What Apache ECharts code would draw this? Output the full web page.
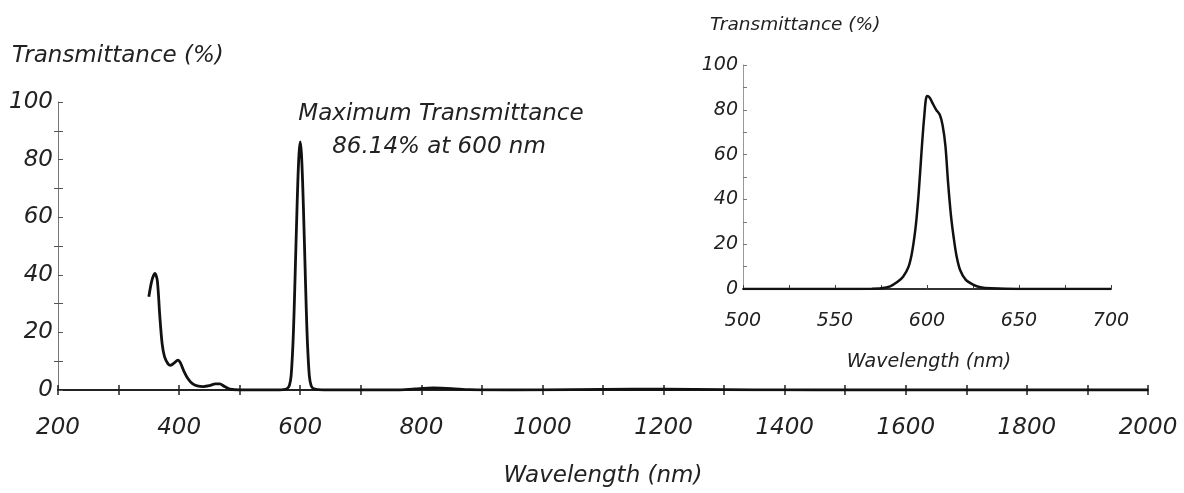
<!DOCTYPE html>
<html>
<head>
<meta charset="utf-8">
<script src="https://cdn.jsdelivr.net/npm/echarts@6/dist/echarts.min.js"></script>
<style>
  html, body { margin: 0; padding: 0; background: #fff; }
  #chart { width: 1184px; height: 493px; }
</style>
</head>
<body>
<div id="chart"></div>
<script>
// full spectrum (main plot): wavelength (nm) / transmittance (%)
var wavelengths = [350, 355, 360, 364, 368, 372, 376, 382, 386, 392, 398, 402, 408, 415, 422, 430, 440, 450, 460, 467, 475, 484, 500,
  530, 565, 575, 578, 582, 585, 588, 590, 592, 594, 596, 598, 600, 602, 604, 606, 608, 610, 612, 615, 618, 622, 630, 640,
  700, 760, 790, 820, 850, 880, 950, 1050, 1150, 1250, 1350, 1450, 2000]
var transmittance = [32.4, 38, 40.5, 38, 26, 16, 11.5, 9, 8.6, 9.4, 10.4, 9.5, 6.5, 3.8, 2.2, 1.4, 1.2, 1.5, 2.1, 2.1, 1.2, 0.3, 0,
  0, 0, 0.2, 0.4, 1.5, 5, 16, 28, 43, 58, 72, 82, 86.14, 82, 72, 58, 43, 28, 16, 5, 1.5, 0.4, 0.1, 0,
  0, 0, 0.4, 0.7, 0.5, 0.1, 0, 0.15, 0.3, 0.2, 0.05, 0, 0]

// zoomed spectrum (inset, 500-700 nm)
var insetWavelengths = [500, 520, 550, 570, 575, 580, 584, 587, 590, 592, 594, 595.5, 597, 598.5, 600, 601.5, 603, 605, 607, 608.5,
  610, 611.5, 613, 614.5, 616, 618, 621, 625, 629, 635, 650, 700]
var insetTransmittance = [0, 0, 0, 0.1, 0.3, 1.2, 3.2, 5.5, 10, 17, 29, 43, 61, 77, 86.14, 85.4, 83, 80, 77.7, 73,
  64, 47, 33, 23, 15, 8.5, 4.2, 2, 0.8, 0.3, 0, 0]

var mainXTicks = [200, 2000, 200]   // min, max, interval
var mainYTicks = [0, 100, 20]
var insetXTicks = [500, 700, 50]
var insetYTicks = [0, 100, 20]

var mainData = wavelengths.map(function (w, i) { return [w, transmittance[i]] })
var insetData = insetWavelengths.map(function (w, i) { return [w, insetTransmittance[i]] })

var FONT = '"DejaVu Sans", sans-serif'
var TXT = '#222'
var plain = function (v) { return String(v) }

function xAxisOf(grid, t, opts) {
  return Object.assign({
    type: 'value', gridIndex: grid, position: 'bottom',
    min: t[0], max: t[1], interval: t[2],
    splitLine: { show: false }
  }, opts)
}
function yAxisOf(grid, t, opts) {
  return Object.assign({
    type: 'value', gridIndex: grid, position: 'left',
    min: t[0], max: t[1], interval: t[2],
    splitLine: { show: false }
  }, opts)
}

var chart = echarts.init(document.getElementById('chart'))
chart.setOption({
  backgroundColor: '#fff',
  animation: false,
  grid: [
    { left: 58, right: 36, top: 102, bottom: 103 },
    { left: 743, right: 73, top: 65, bottom: 204 }
  ],
  xAxis: [
    // main axis (ticks below)
    xAxisOf(0, mainXTicks, {
      axisLine: { lineStyle: { color: '#222', width: 2 } },
      axisTick: { length: 5, lineStyle: { color: '#222', width: 1.5 } },
      minorTick: { show: true, splitNumber: 2, length: 5, lineStyle: { color: '#222', width: 1.5 } },
      axisLabel: { margin: 27, fontSize: 23, fontStyle: 'italic', fontFamily: FONT, color: TXT, formatter: plain }
    }),
    // same axis again, ticks above, so they cross the line
    xAxisOf(0, mainXTicks, {
      axisLine: { show: false },
      axisTick: { inside: true, length: 5, lineStyle: { color: '#222', width: 1.5 } },
      minorTick: { show: true, splitNumber: 2, length: 5, lineStyle: { color: '#222', width: 1.5 } },
      axisLabel: { show: false }
    }),
    // inset
    xAxisOf(1, insetXTicks, {
      axisLine: { lineStyle: { color: '#333', width: 2 } },
      axisTick: { inside: true, length: 4, lineStyle: { color: '#444' } },
      minorTick: { show: true, splitNumber: 2, length: 4, lineStyle: { color: '#444' } },
      axisLabel: { margin: 23, fontSize: 19, fontStyle: 'italic', fontFamily: FONT, color: TXT, formatter: plain }
    })
  ],
  yAxis: [
    yAxisOf(0, mainYTicks, {
      axisLine: { show: true, lineStyle: { color: '#777', width: 1 } },
      axisTick: { show: true, inside: true, length: 5, lineStyle: { color: '#555' } },
      minorTick: { show: true, splitNumber: 2, length: 5, lineStyle: { color: '#555' } },
      axisLabel: { margin: 5, fontSize: 23, fontStyle: 'italic', fontFamily: FONT, color: TXT, padding: [11, 0, 0, 0] }
    }),
    yAxisOf(0, mainYTicks, {
      axisLine: { show: false },
      axisTick: { show: false },
      minorTick: { show: true, splitNumber: 2, length: 4, lineStyle: { color: '#555' } },
      axisLabel: { show: false }
    }),
    yAxisOf(1, insetYTicks, {
      axisLine: { show: true, lineStyle: { color: '#999', width: 1 } },
      axisTick: { show: true, inside: true, length: 4, lineStyle: { color: '#777' } },
      minorTick: { show: true, splitNumber: 2, length: 4, lineStyle: { color: '#777' } },
      axisLabel: { margin: 5, fontSize: 19, fontStyle: 'italic', fontFamily: FONT, color: TXT, padding: [8, 0, 0, 0] }
    })
  ],
  series: [
    {
      name: 'Transmittance',
      type: 'line',
      xAxisIndex: 0, yAxisIndex: 0,
      data: mainData,
      smooth: 0.3,
      showSymbol: false,
      lineStyle: { color: '#111', width: 2.8 }
    },
    {
      name: 'Transmittance (inset)',
      type: 'line',
      xAxisIndex: 2, yAxisIndex: 2,
      data: insetData,
      smooth: 0.3,
      showSymbol: false,
      lineStyle: { color: '#111', width: 2.5 }
    }
  ],
  graphic: [
    { type: 'text', x: 12, y: 56, style: { text: 'Transmittance (%)', font: 'italic 23px ' + FONT, fill: TXT, verticalAlign: 'middle' } },
    { type: 'text', x: 603, y: 476, style: { text: 'Wavelength (nm)', font: 'italic 23px ' + FONT, fill: TXT, align: 'center', verticalAlign: 'middle' } },
    { type: 'text', x: 441, y: 114, style: { text: 'Maximum Transmittance', font: 'italic 23px ' + FONT, fill: TXT, align: 'center', verticalAlign: 'middle' } },
    { type: 'text', x: 439, y: 147, style: { text: '86.14% at 600 nm', font: 'italic 23px ' + FONT, fill: TXT, align: 'center', verticalAlign: 'middle' } },
    { type: 'text', x: 710, y: 25, style: { text: 'Transmittance (%)', font: 'italic 18.5px ' + FONT, fill: TXT, verticalAlign: 'middle' } },
    { type: 'text', x: 929, y: 362, style: { text: 'Wavelength (nm)', font: 'italic 19px ' + FONT, fill: TXT, align: 'center', verticalAlign: 'middle' } }
  ]
})
</script>
</body>
</html>
